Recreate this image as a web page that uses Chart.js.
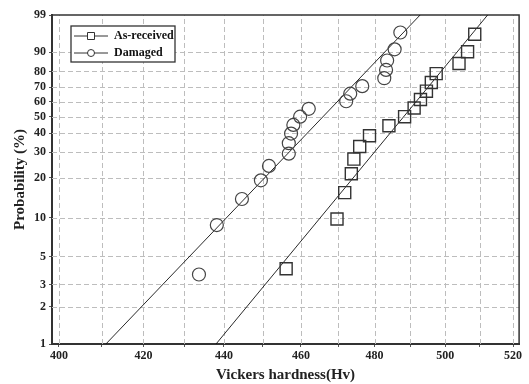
<!DOCTYPE html>
<html>
<head>
<meta charset="utf-8">
<script src="https://cdn.jsdelivr.net/npm/chart.js@4.4.1/dist/chart.umd.min.js"></script>
<style>
  html, body { margin: 0; padding: 0; background: #fff; }
  #wrap { width: 529px; height: 384px; }
</style>
</head>
<body>
<div id="wrap"><canvas id="chart" width="529" height="384"></canvas></div>
<script>
// Weibull plot: hardness (log x) vs failure probability (%)
const receivedHv = [456.1, 469.7, 471.8, 473.6, 474.3, 475.9, 478.6, 484.0, 488.4, 491.1, 492.9, 494.6, 496.0, 497.4, 504.0, 506.5, 508.6];
const receivedProb = [4.0, 9.8, 15.5, 21.3, 27.0, 32.8, 38.5, 44.3, 50.0, 55.7, 61.5, 67.2, 73.0, 78.7, 84.5, 90.2, 96.0];

const damagedHv = [433.7, 438.2, 444.6, 449.5, 451.6, 456.8, 456.8, 457.4, 458.0, 459.8, 462.1, 472.2, 473.3, 476.6, 482.7, 483.2, 483.5, 485.6, 487.2];
const damagedProb = [3.6, 8.8, 13.9, 19.1, 24.2, 29.4, 34.5, 39.7, 44.8, 50.0, 55.2, 60.3, 65.5, 70.6, 75.8, 80.9, 86.1, 91.2, 96.4];

// fitted lines, read at the 1 % and 99 % edges
const fitProb = [1, 99];
const receivedFitHv = [438.0, 512.4];
const damagedFitHv = [411.0, 492.8];

const xTicks = [400, 410, 420, 430, 440, 450, 460, 470, 480, 490, 500, 510, 520];
const xTickLabels = ["400", "", "420", "", "440", "", "460", "", "480", "", "500", "", "520"];
const yTicks = [1, 2, 3, 5, 10, 20, 30, 40, 50, 60, 70, 80, 90, 99];
const yTickLabels = ["1", "2", "3", "5", "10", "20", "30", "40", "50", "60", "70", "80", "90", "99"];

const SERIF = "'Liberation Serif', 'Times New Roman', serif";
const INK = "#333";
const GRID = "#bdbdbd";

function weib(p) {
  return Math.log(-Math.log(1 - p / 100));
}

function pts(xs, ps) {
  return xs.map((x, i) => ({ x, y: weib(ps[i]) }));
}

// dashed grid at the scale's own tick pixels, plus top/right frame
const framePlugin = {
  id: "frame",
  beforeDatasetsDraw(chart) {
    const { ctx, chartArea: a, scales } = chart;
    ctx.save();
    ctx.strokeStyle = GRID;
    ctx.lineWidth = 1;
    ctx.setLineDash([5, 3]);
    scales.x.ticks.forEach(t => {
      const px = Math.round(scales.x.getPixelForValue(t.value)) + 0.5;
      if (px <= a.left + 1 || px >= a.right - 1) return;
      ctx.beginPath();
      ctx.moveTo(px, a.bottom);
      ctx.lineTo(px, a.top);
      ctx.stroke();
    });
    scales.y.ticks.forEach(t => {
      const py = Math.round(scales.y.getPixelForValue(t.value)) + 0.5;
      if (py <= a.top + 1 || py >= a.bottom - 1) return;
      ctx.beginPath();
      ctx.moveTo(a.left, py);
      ctx.lineTo(a.right, py);
      ctx.stroke();
    });
    ctx.setLineDash([]);
    ctx.strokeStyle = INK;
    ctx.lineWidth = 1.5;
    ctx.beginPath();
    ctx.moveTo(a.left, a.top);
    ctx.lineTo(a.right, a.top);
    ctx.lineTo(a.right, a.bottom);
    ctx.stroke();
    ctx.restore();
  }
};

const legendPlugin = {
  id: "boxLegend",
  afterDraw(chart) {
    const { ctx } = chart;
    const x0 = 71, y0 = 26, w = 104, h = 36;
    ctx.save();
    ctx.fillStyle = "#fff";
    ctx.fillRect(x0, y0, w, h);
    ctx.strokeStyle = INK;
    ctx.lineWidth = 1.3;
    ctx.strokeRect(x0, y0, w, h);
    const items = [
      { label: chart.data.datasets[0].label, style: "rect", y: y0 + 10 },
      { label: chart.data.datasets[1].label, style: "circle", y: y0 + 27 }
    ];
    items.forEach(it => {
      ctx.strokeStyle = INK;
      ctx.lineWidth = 1;
      ctx.beginPath();
      ctx.moveTo(x0 + 3, it.y);
      ctx.lineTo(x0 + 37, it.y);
      ctx.stroke();
      const cx = x0 + 20;
      ctx.fillStyle = "#fff";
      ctx.beginPath();
      if (it.style === "rect") ctx.rect(cx - 3.5, it.y - 3.5, 7, 7);
      else ctx.arc(cx, it.y, 3.5, 0, Math.PI * 2);
      ctx.fill();
      ctx.stroke();
      ctx.fillStyle = "#111";
      ctx.font = "bold 12px " + SERIF;
      ctx.textBaseline = "middle";
      ctx.textAlign = "left";
      ctx.fillText(it.label, x0 + 43, it.y);
    });
    ctx.restore();
  }
};

new Chart(document.getElementById("chart"), {
  type: "scatter",
  data: {
    datasets: [
      {
        label: "As-received",
        data: pts(receivedHv, receivedProb),
        pointStyle: "rect",
        pointRadius: 8.5,
        pointBorderWidth: 1.4,
        borderColor: INK,
        backgroundColor: "rgba(0,0,0,0)"
      },
      {
        label: "Damaged",
        data: pts(damagedHv, damagedProb),
        pointStyle: "circle",
        pointRadius: 6.5,
        pointBorderWidth: 1.2,
        borderColor: "#444",
        backgroundColor: "rgba(0,0,0,0)"
      },
      {
        label: "fit-received",
        data: pts(receivedFitHv, fitProb),
        showLine: true,
        pointRadius: 0,
        borderWidth: 0.9,
        borderColor: "#111"
      },
      {
        label: "fit-damaged",
        data: pts(damagedFitHv, fitProb),
        showLine: true,
        pointRadius: 0,
        borderWidth: 0.9,
        borderColor: "#111"
      }
    ]
  },
  options: {
    responsive: false,
    animation: false,
    layout: { padding: { top: 15, right: 4, left: 0, bottom: 0 } },
    plugins: {
      legend: { display: false },
      tooltip: { enabled: false }
    },
    scales: {
      x: {
        type: "logarithmic",
        min: 398.4,
        max: 521.8,
        afterBuildTicks: (s) => { s.ticks = xTicks.map(v => ({ value: v })); },
        afterFit: (s) => { s.height = 40; },
        ticks: {
          autoSkip: false,
          maxRotation: 0,
          padding: 2,
          color: "#222",
          font: { family: SERIF, size: 12, weight: "bold" },
          callback: (v, i) => xTickLabels[i]
        },
        grid: { drawOnChartArea: false, tickLength: 3, tickColor: "#555" },
        border: { display: true, color: INK, width: 2 },
        title: {
          display: true,
          text: "Vickers hardness(Hv)",
          color: "#222",
          padding: { top: 1, bottom: 0 },
          font: { family: SERIF, size: 15, weight: "bold" }
        }
      },
      y: {
        type: "linear",
        min: weib(1),
        max: weib(99),
        afterBuildTicks: (s) => { s.ticks = yTicks.map(p => ({ value: weib(p) })); },
        afterFit: (s) => { s.width = 52; },
        ticks: {
          autoSkip: false,
          padding: 3,
          color: "#222",
          font: { family: SERIF, size: 12, weight: "bold" },
          callback: (v, i) => yTickLabels[i]
        },
        grid: { drawOnChartArea: false, tickLength: 3, tickColor: "#555" },
        border: { display: true, color: INK, width: 2 },
        title: {
          display: true,
          text: "Probability (%)",
          color: "#222",
          padding: { top: 11, bottom: 0 },
          font: { family: SERIF, size: 15, weight: "bold" }
        }
      }
    }
  },
  plugins: [framePlugin, legendPlugin]
});
</script>
</body>
</html>
